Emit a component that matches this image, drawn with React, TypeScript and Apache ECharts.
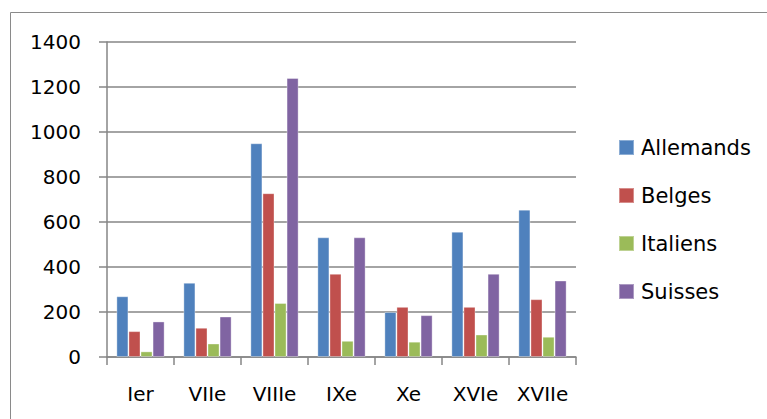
import React, { useEffect, useRef } from "react";
import * as echarts from "echarts";

const categories = ["Ier", "VIIe", "VIIIe", "IXe", "Xe", "XVIe", "XVIIe"];
const seriesNames = ["Allemands", "Belges", "Italiens", "Suisses"];
const allemands = [270, 330, 950, 532, 200, 557, 655];
const belges = [115, 130, 728, 370, 223, 223, 257];
const italiens = [25, 60, 240, 72, 68, 100, 90];
const suisses = [158, 180, 1240, 532, 186, 370, 340];
const colors = ["#4F81BD", "#C0504D", "#9BBB59", "#8064A2"];

export default function App() {
  const ref = useRef<HTMLDivElement>(null);
  useEffect(() => {
    if (!ref.current) return;
    const chart = echarts.init(ref.current, null, { renderer: "svg" });
    const values = [allemands, belges, italiens, suisses];
    const font = "DejaVu Sans";
    const axisGray = "#868686";
    chart.setOption({
      animation: false,
      backgroundColor: "#ffffff",
      graphic: [
        {
          type: "rect",
          shape: { x: 10.5, y: 12.5, width: 800, height: 500 },
          style: { fill: "none", stroke: "#8a8a8a", lineWidth: 1 },
          silent: true,
        },
      ],
      grid: { left: 107, right: 191, top: 42, bottom: 62 },
      legend: {
        orient: "vertical",
        left: 613,
        top: 132,
        itemWidth: 15,
        itemHeight: 15,
        itemGap: 27,
        icon: "rect",
        data: seriesNames,
        textStyle: { fontFamily: font, fontSize: 21, color: "#000", lineHeight: 21, padding: [0, 0, 0, 2] },
      },
      xAxis: {
        type: "category",
        data: categories,
        axisLine: { lineStyle: { color: axisGray, width: 1.5 } },
        axisTick: { show: true, length: 8, interval: 0, lineStyle: { color: axisGray, width: 1.5 } },
        axisLabel: { fontFamily: font, fontSize: 20, color: "#000", margin: 27, interval: 0 },
      },
      yAxis: {
        type: "value",
        min: 0,
        max: 1400,
        interval: 200,
        axisLine: { show: true, lineStyle: { color: axisGray, width: 1.5 } },
        axisTick: { show: true, length: 8, lineStyle: { color: axisGray, width: 1.5 } },
        axisLabel: {
          fontFamily: font,
          fontSize: 20,
          color: "#000",
          margin: 26,
          formatter: (v: number) => String(v),
        },
        splitLine: { lineStyle: { color: axisGray, width: 1.5 } },
      },
      series: seriesNames.map((name, i) => ({
        name,
        type: "bar",
        data: values[i],
        barGap: "0%",
        barCategoryGap: "28%",
        itemStyle: { color: colors[i], borderColor: "rgba(255,255,255,0.35)", borderWidth: 1 },
      })),
    });
    return () => chart.dispose();
  }, []);
  return (
    <div
      ref={ref}
      style={{ position: "fixed", left: 0, top: 0, width: 767, height: 419 }}
    />
  );
}
